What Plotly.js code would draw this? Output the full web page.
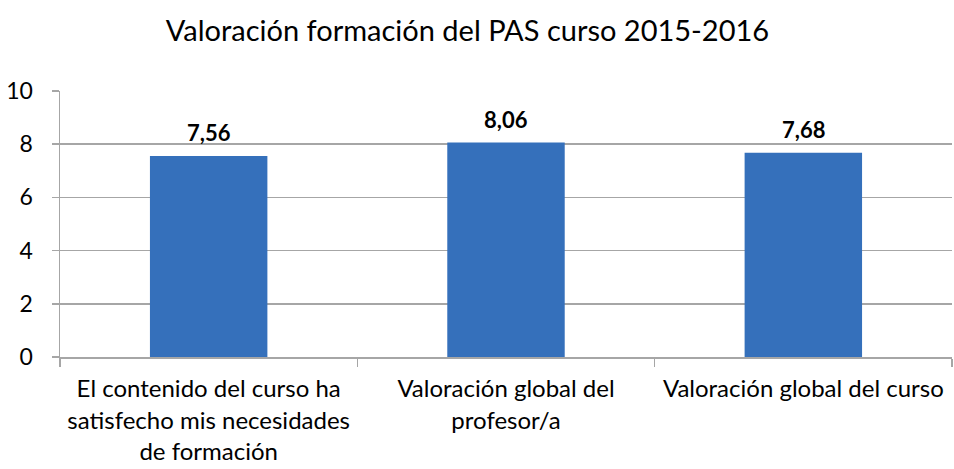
<!DOCTYPE html>
<html>
<head>
<meta charset="utf-8">
<script src="https://cdn.plot.ly/plotly-3.0.1.min.js"></script>
<style>html,body{margin:0;padding:0;background:#fff;}#chart{width:954px;height:469px;}</style>
</head>
<body>
<div id="chart"></div>
<script>
const categories = [
  "El contenido del curso ha<br>satisfecho mis necesidades<br>de formación",
  "Valoración global del<br>profesor/a",
  "Valoración global del curso"
];
const values = [7.56, 8.06, 7.68];
const valueLabels = ["7,56", "8,06", "7,68"];
const yTicks = [0, 2, 4, 6, 8, 10];

const FONT = "Lato, 'Open Sans', sans-serif";

const trace = {
  type: "bar",
  x: categories,
  y: values,
  width: 0.395,
  marker: { color: "#3570bb", line: { width: 0 } },
  hoverinfo: "skip"
};

const annotations = categories.map((c, i) => ({
  x: c, y: values[i], xref: "x", yref: "y",
  text: "<b>" + valueLabels[i] + "</b>",
  showarrow: false, yanchor: "bottom", yshift: 8,
  font: { family: FONT, size: 22, color: "#000" }
}));

const layout = {
  width: 954, height: 469,
  margin: { l: 60, r: 2, t: 91, b: 112 },
  paper_bgcolor: "#fff", plot_bgcolor: "#fff",
  showlegend: false,
  title: { text: "Valoración formación del PAS curso 2015-2016", x: 0.49, xanchor: "center", y: 0.935, yanchor: "middle",
           font: { family: FONT, size: 29, color: "#000" } },
  xaxis: {
    type: "category",
    showgrid: false,
    showline: true, linecolor: "#a6a6a6", linewidth: 1.5,
    ticks: "outside", tickson: "boundaries", ticklen: 8, tickcolor: "#a6a6a6", tickwidth: 1.5,
    tickfont: { family: FONT, size: 24, color: "#000" },
    ticklabelstandoff: 10,
    tickangle: 0
  },
  yaxis: {
    range: [0, 10],
    tickvals: yTicks, ticktext: yTicks.map(String),
    showgrid: true, gridcolor: "#a6a6a6", gridwidth: 1.5,
    showline: true, linecolor: "#a6a6a6", linewidth: 1.5,
    zeroline: false,
    ticks: "outside", ticklen: 7, tickcolor: "#a6a6a6", tickwidth: 1.5,
    tickfont: { family: FONT, size: 23, color: "#000" },
    ticklabelstandoff: 14
  },
  annotations: annotations
};

Plotly.newPlot("chart", [trace], layout, { displayModeBar: false, staticPlot: true });
</script>
</body>
</html>
